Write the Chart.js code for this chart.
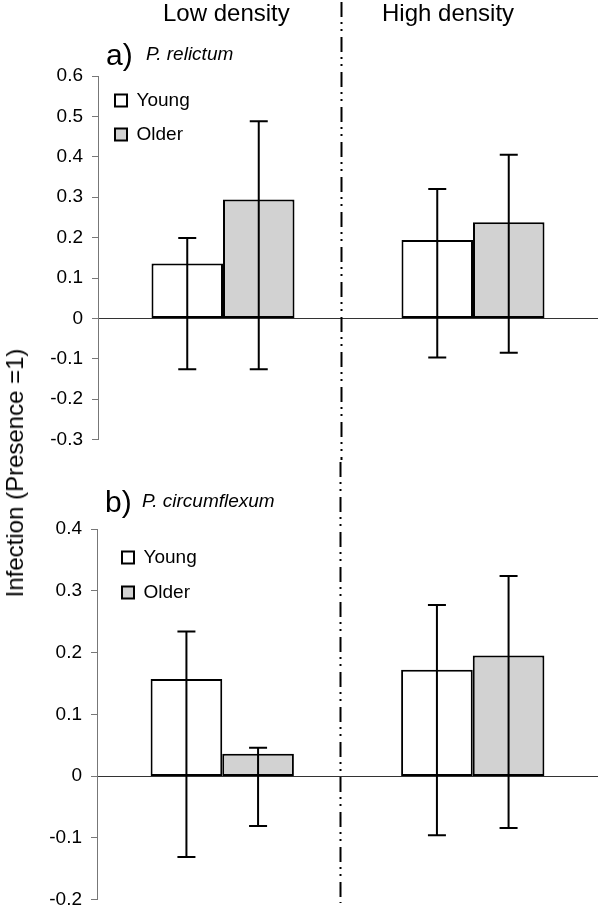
<!DOCTYPE html>
<html>
<head>
<meta charset="utf-8">
<script src="https://cdn.jsdelivr.net/npm/chart.js@4.4.0/dist/chart.umd.min.js"></script>
<style>
  body { margin: 0; background: #fff; }
  #wrap { position: relative; width: 600px; height: 920px; font-family: "Liberation Sans", Arial, sans-serif; color: #000; }
  #wrap canvas { position: absolute; left: 0; }
  .txt { position: absolute; line-height: 1; white-space: nowrap; }
</style>
</head>
<body>
<div id="wrap">
  <canvas id="relictumChart" width="600" height="460" style="top:0"></canvas>
  <canvas id="circumChart" width="600" height="460" style="top:460px"></canvas>

  <div class="txt" style="left:163px; top:1px; font-size:24px;">Low density</div>
  <div class="txt" style="left:382px; top:1px; font-size:24px;">High density</div>
  <div class="txt" style="left:106px; top:40px; font-size:30px;">a)</div>
  <div class="txt" style="left:146px; top:44px; font-size:19px; font-style:italic;">P. relictum</div>
  <div class="txt" style="left:105px; top:487px; font-size:30px;">b)</div>
  <div class="txt" style="left:142px; top:491px; font-size:19px; font-style:italic;">P. circumflexum</div>
  <div class="txt" style="left:15px; top:473px; font-size:24px; transform: translate(-50%, -50%) rotate(-90deg);">Infection (Presence =1)</div>
</div>

<script>
// Categories
const categories = ['Low density', 'High density'];
const seriesNames = ['Young', 'Older'];

// a) P. relictum - means and error bar ends
const relictumYoung = [0.136, 0.194];
const relictumOlder = [0.294, 0.238];
const relictumYoungHi = [0.199, 0.320];
const relictumYoungLo = [-0.126, -0.097];
const relictumOlderHi = [0.488, 0.405];
const relictumOlderLo = [-0.126, -0.085];

// b) P. circumflexum
const circumYoung = [0.157, 0.172];
const circumOlder = [0.036, 0.195];
const circumYoungHi = [0.234, 0.277];
const circumYoungLo = [-0.131, -0.096];
const circumOlderHi = [0.046, 0.324];
const circumOlderLo = [-0.081, -0.084];

// y axis ranges
const relictumTicks = { min: -0.3, max: 0.6, step: 0.1 };
const circumTicks = { min: -0.2, max: 0.4, step: 0.1 };

Chart.defaults.font.family = '"Liberation Sans", Arial, sans-serif';
Chart.defaults.color = '#000';

// Draws the error bars on top of the bars
const errorBarPlugin = {
    id: 'errorBars',
    afterDatasetsDraw(chart, args, opts) {
        const ctx = chart.ctx;
        const yScale = chart.scales.y;
        ctx.save();
        ctx.strokeStyle = '#000';
        ctx.lineWidth = 2;
        chart.data.datasets.forEach((ds, i) => {
            const meta = chart.getDatasetMeta(i);
            meta.data.forEach((bar, j) => {
                const x = bar.x;
                const yHi = yScale.getPixelForValue(ds.errHi[j]);
                const yLo = yScale.getPixelForValue(ds.errLo[j]);
                const w = opts.capWidth / 2;
                ctx.beginPath();
                ctx.moveTo(x, yHi); ctx.lineTo(x, yLo);
                ctx.moveTo(x - w, yHi); ctx.lineTo(x + w, yHi);
                ctx.moveTo(x - w, yLo); ctx.lineTo(x + w, yLo);
                ctx.stroke();
            });
        });
        ctx.restore();
    }
};

// Dash-dot-dot divider between the two density groups
const dividerPlugin = {
    id: 'divider',
    afterDraw(chart, args, opts) {
        const ctx = chart.ctx;
        const x = Math.round(chart.scales.x.getPixelForValue(opts.at)) + 0.5;
        ctx.save();
        ctx.strokeStyle = '#000';
        ctx.lineWidth = 2;
        ctx.setLineDash([15, 5, 2, 5, 2, 6]);
        ctx.beginPath();
        ctx.moveTo(x, opts.top);
        ctx.lineTo(x, opts.bottom);
        ctx.stroke();
        ctx.restore();
    }
};

// puts the legend inside the plot area, near its top left corner
const legendNudgePlugin = {
    id: 'legendNudge',
    afterLayout(chart, args, opts) {
        if (chart.legend) {
            chart.legend.left = chart.chartArea.left + opts.dx;
            chart.legend.top = chart.chartArea.top + opts.dy;
        }
    }
};

function isZero(v) {
    return Math.abs(v) < 1e-9;
}

function makePanel(canvasId, young, older, youngHi, youngLo, olderHi, olderLo, ticks, pad, legend, dividerBottom) {
    const ctx = document.getElementById(canvasId).getContext('2d');
    return new Chart(ctx, {
        type: 'bar',
        data: {
            labels: categories,
            datasets: [{
                label: seriesNames[0],
                data: young,
                errHi: youngHi,
                errLo: youngLo,
                backgroundColor: '#ffffff',
                borderColor: '#000000',
                borderWidth: 2,
                borderSkipped: false
            }, {
                label: seriesNames[1],
                data: older,
                errHi: olderHi,
                errLo: olderLo,
                backgroundColor: '#d2d2d2',
                borderColor: '#000000',
                borderWidth: 2,
                borderSkipped: false
            }]
        },
        options: {
            responsive: false,
            animation: false,
            devicePixelRatio: 1,
            categoryPercentage: 0.572,
            barPercentage: 1.0,
            layout: {
                padding: { left: 30, right: 2, top: pad.top, bottom: pad.bottom }
            },
            plugins: {
                legend: {
                    position: 'chartArea',
                    align: 'start',
                    labels: {
                        boxWidth: 12,
                        boxHeight: 12,
                        padding: legend.padding,
                        color: '#000',
                        font: { size: 19 }
                    }
                },
                tooltip: { enabled: false },
                errorBars: { capWidth: 18 },
                divider: { at: 0.472, top: 2, bottom: dividerBottom },
                legendNudge: { dx: legend.dx, dy: legend.dy }
            },
            scales: {
                x: {
                    display: false
                },
                y: {
                    min: ticks.min,
                    max: ticks.max,
                    afterFit: function(scale) { scale.width = pad.left - 30; },
                    border: { display: true, color: '#777', width: 1 },
                    grid: {
                        drawOnChartArea: true,
                        drawTicks: true,
                        tickLength: 6,
                        tickColor: '#777',
                        lineWidth: 1,
                        color: function(c) {
                            return c.tick && isZero(c.tick.value) ? '#333' : 'rgba(0,0,0,0)';
                        }
                    },
                    ticks: {
                        stepSize: ticks.step,
                        padding: 9,
                        color: '#000',
                        font: { size: 19 },
                        callback: function(v) {
                            return isZero(v) ? '0' : v.toFixed(1);
                        }
                    }
                }
            }
        },
        plugins: [errorBarPlugin, dividerPlugin, legendNudgePlugin]
    });
}

makePanel('relictumChart', relictumYoung, relictumOlder, relictumYoungHi, relictumYoungLo,
    relictumOlderHi, relictumOlderLo, relictumTicks,
    { left: 98, top: 76, bottom: 13 }, { padding: 15, dx: 2, dy: 0 }, 460);

makePanel('circumChart', circumYoung, circumOlder, circumYoungHi, circumYoungLo,
    circumOlderHi, circumOlderLo, circumTicks,
    { left: 97, top: 69, bottom: 12 }, { padding: 16, dx: 9, dy: 3 }, 443);
</script>
</body>
</html>
